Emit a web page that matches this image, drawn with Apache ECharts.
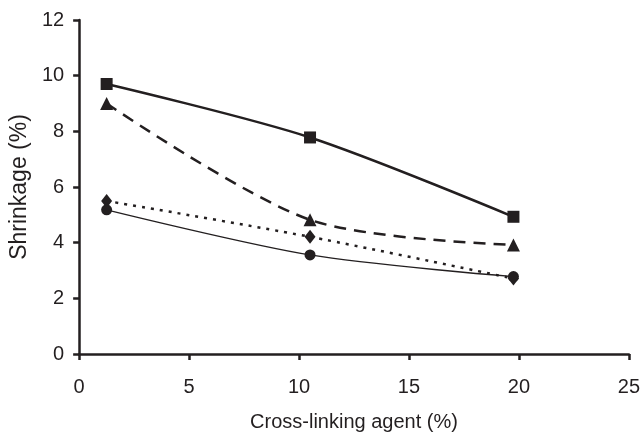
<!DOCTYPE html>
<html><head><meta charset="utf-8">
<script src="https://cdn.jsdelivr.net/npm/echarts@6/dist/echarts.min.js"></script>
<style>html,body{margin:0;padding:0;background:#fff}#c{width:643px;height:437px}</style>
</head><body><div id="c"></div>
<script>
const xValues = [1.25, 10.5, 19.75];
const squareSeries = [9.7, 7.78, 4.93];
const triangleSeries = [9.0, 4.82, 3.92];
const diamondSeries = [5.5, 4.21, 2.71];
const circleSeries = [5.18, 3.56, 2.78];
const xTicks = [0, 5, 10, 15, 20, 25];
const yTicks = [0, 2, 4, 6, 8, 10, 12];

const ink = '#231f20';
const font = 'Liberation Sans, Arial, sans-serif';
function pts(ys){ return xValues.map((x,i)=>[x, ys[i]]); }

const chart = echarts.init(document.getElementById('c'), null, {renderer:'canvas'});
const axisCommon = {
  axisLine:{show:true, lineStyle:{color:ink, width:2.5}},
  axisTick:{show:true, inside:false, length:6, lineStyle:{color:ink, width:2.5}},
  splitLine:{show:false},
  axisLabel:{color:ink, fontFamily:font, fontSize:20}
};
chart.setOption({
  animation:false,
  backgroundColor:'#fff',
  grid:{left:78, right:14, top:20, bottom:82, containLabel:false},
  xAxis:Object.assign({}, axisCommon, {
    type:'value', min:xTicks[0], max:xTicks[xTicks.length-1], interval:5,
    name:'Cross-linking agent (%)', nameLocation:'middle', nameGap:58,
    nameTextStyle:{color:ink, fontFamily:font, fontSize:20},
    axisLabel:Object.assign({}, axisCommon.axisLabel, {margin:23})
  }),
  yAxis:Object.assign({}, axisCommon, {
    type:'value', min:yTicks[0], max:yTicks[yTicks.length-1], interval:2,
    name:'Shrinkage (%)', nameLocation:'middle', nameGap:44, nameRotate:90,
    nameTextStyle:{color:ink, fontFamily:font, fontSize:23},
    axisLabel:Object.assign({}, axisCommon.axisLabel, {margin:15})
  }),
  series:[
    {type:'line', data:pts(squareSeries), smooth:0.3, symbol:'rect', symbolSize:12,
     lineStyle:{color:ink, width:2.5, type:'solid'}, itemStyle:{color:ink}},
    {type:'line', data:pts(triangleSeries), smooth:0.3, symbol:'triangle', symbolSize:13,
     lineStyle:{color:ink, width:2.5, type:[12,8]}, itemStyle:{color:ink}},
    {type:'line', data:pts(diamondSeries), smooth:0.3, symbol:'diamond', symbolSize:[11,14],
     lineStyle:{color:ink, width:2.5, type:[3,6]}, itemStyle:{color:ink}},
    {type:'line', data:pts(circleSeries), smooth:0.3, symbol:'circle', symbolSize:11,
     lineStyle:{color:ink, width:1.3, type:'solid'}, itemStyle:{color:ink}}
  ]
});
</script></body></html>
